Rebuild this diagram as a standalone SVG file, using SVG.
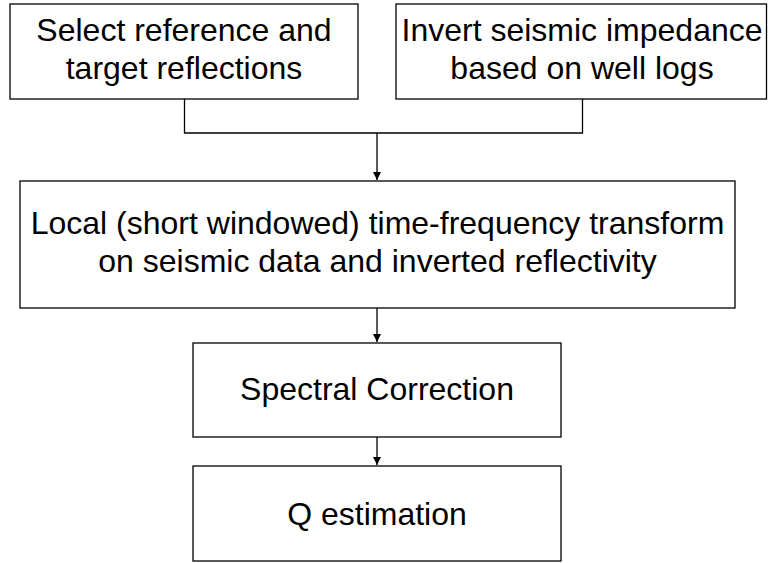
<svg xmlns="http://www.w3.org/2000/svg" width="768" height="563" viewBox="0 0 768 563">
<style>
.box{fill:#fff;stroke:#000;stroke-width:1.3}
.t{font-family:"Liberation Sans",Arial,sans-serif;font-size:32px;fill:#000;text-anchor:middle}
.c{fill:none;stroke:#000;stroke-width:1.3}
</style>
<defs>
<marker id="arr" markerWidth="8" markerHeight="9" refX="8" refY="4" orient="auto" markerUnits="userSpaceOnUse">
<path d="M0,0 L8,4 L0,8 Z" fill="#000"/>
</marker>
</defs>
<rect width="768" height="563" fill="#fff"/>
<g id="n1">
<rect class="box" x="10" y="4" width="348" height="95"/>
<text class="t" x="184" y="41">Select reference and</text>
<text class="t" x="184" y="79">target reflections</text>
</g>
<g id="n2">
<rect class="box" x="396" y="4" width="370.5" height="95"/>
<text class="t" x="582" y="41">Invert seismic impedance</text>
<text class="t" x="582" y="79">based on well logs</text>
</g>
<g id="n3">
<rect class="box" x="20" y="181" width="715" height="127"/>
<text class="t" x="377.5" y="234">Local (short windowed) time-frequency transform</text>
<text class="t" x="377.5" y="272">on seismic data and inverted reflectivity</text>
</g>
<g id="n4">
<rect class="box" x="193" y="343" width="368" height="94"/>
<text class="t" x="377" y="400">Spectral Correction</text>
</g>
<g id="n5">
<rect class="box" x="193" y="466" width="368" height="95"/>
<text class="t" x="377" y="525">Q estimation</text>
</g>
<g id="connectors">
<path class="c" d="M184.5,99 V133 H582.5 V99"/>
<path class="c" d="M377,133 V180" marker-end="url(#arr)"/>
<path class="c" d="M377,308 V342" marker-end="url(#arr)"/>
<path class="c" d="M377,437 V465" marker-end="url(#arr)"/>
</g>
</svg>
